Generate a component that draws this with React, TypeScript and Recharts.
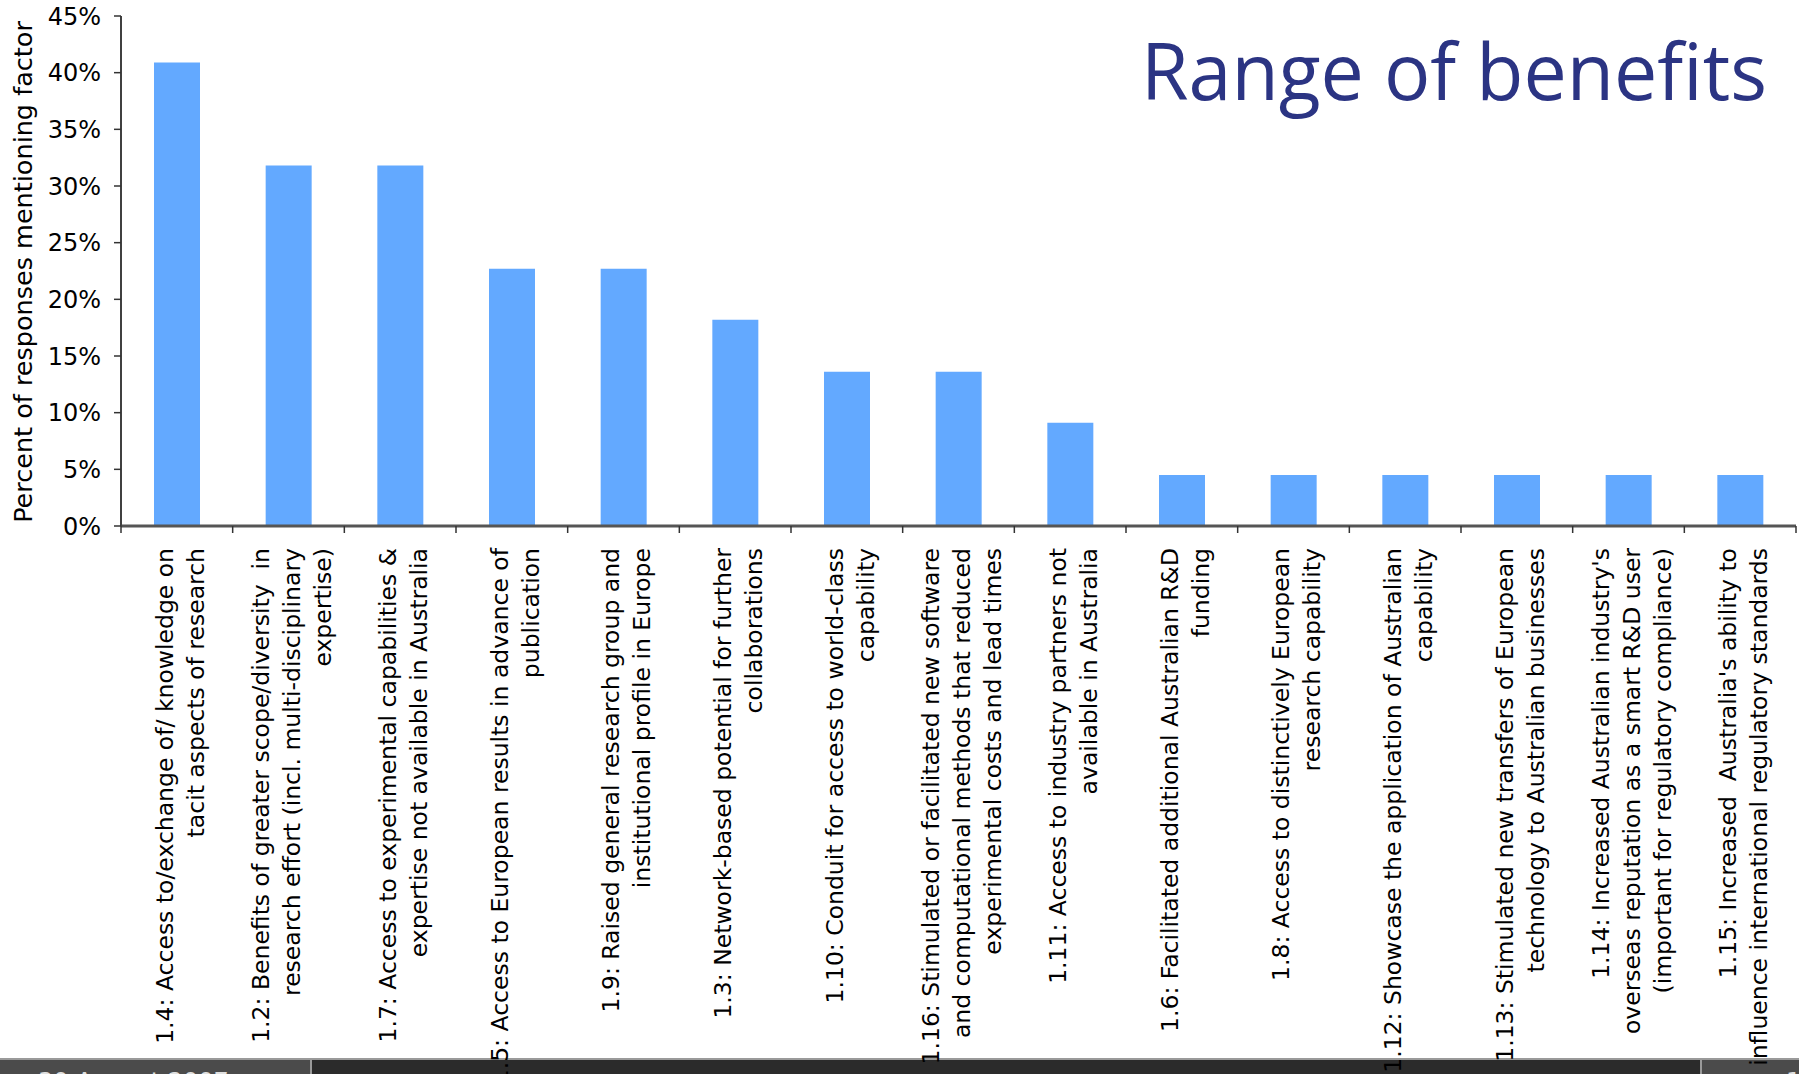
import React from 'react';
import { BarChart, Bar, XAxis, YAxis } from 'recharts';

const categories: string[][] = [
  ['1.4: Access to/exchange of/ knowledge on', 'tacit aspects of research'],
  ['1.2: Benefits of greater scope/diversity  in', 'research effort (incl. multi-disciplinary', 'expertise)'],
  ['1.7: Access to experimental capabilities &', 'expertise not available in Australia'],
  ['1.5: Access to European results in advance of', 'publication'],
  ['1.9: Raised general research group and', 'institutional profile in Europe'],
  ['1.3: Network-based potential for further', 'collaborations'],
  ['1.10: Conduit for access to world-class', 'capability'],
  ['1.16: Stimulated or facilitated new software', 'and computational methods that reduced', 'experimental costs and lead times'],
  ['1.11: Access to industry partners not', 'available in Australia'],
  ['1.6: Facilitated additional Australian R&D', 'funding'],
  ['1.8: Access to distinctively European', 'research capability'],
  ['1.12: Showcase the application of Australian', 'capability'],
  ['1.13: Stimulated new transfers of European', 'technology to Australian businesses'],
  ["1.14: Increased Australian industry's", 'overseas reputation as a smart R&D user', '(important for regulatory compliance)'],
  ["1.15: Increased  Australia's ability to", 'influence international regulatory standards'],
];

const values: number[] = [0.409, 0.318, 0.318, 0.227, 0.227, 0.182, 0.136, 0.136, 0.091, 0.045, 0.045, 0.045, 0.045, 0.045, 0.045];

const yTicks: number[] = [0, 0.05, 0.1, 0.15, 0.2, 0.25, 0.3, 0.35, 0.4, 0.45];

const title = 'Range of benefits';
const yLabel = 'Percent of responses mentioning factor';
const footerDate = '30 August 2007';
const footerPage = '1';

const data = categories.map((lines, i) => ({ name: lines.join(' '), value: values[i] }));
const linesByName: Record<string, string[]> = {};
categories.forEach((lines) => {
  linesByName[lines.join(' ')] = lines;
});

const FONT = '"DejaVu Sans", Verdana, sans-serif';

function XTick(props: any) {
  const { x, y, payload, index } = props;
  const half = payload && typeof payload.offset === 'number' && payload.offset > 0 ? payload.offset : 55.8;
  const lines = linesByName[payload.value] || [String(payload.value)];
  const n = lines.length;
  const lh = 31;
  return (
    <g>
      <line x1={x - half} x2={x - half} y1={y} y2={y + 7} stroke="#333" strokeWidth={1.5} />
      {index === categories.length - 1 && (
        <line x1={x + half} x2={x + half} y1={y} y2={y + 7} stroke="#333" strokeWidth={1.5} />
      )}
      <g transform={`translate(${x + 3},${y + 22}) rotate(-90)`}>
        {lines.map((l, i) => (
          <text
            key={i}
            x={0}
            y={(i - (n - 1) / 2) * lh}
            dy="0.36em"
            textAnchor="end"
            fontSize={23.5}
            fontFamily={FONT}
            fill="#000"
            style={{ whiteSpace: 'pre' }}
          >
            {l}
          </text>
        ))}
      </g>
    </g>
  );
}

function YLabel(props: any) {
  const vb = props.viewBox || { x: 0, y: 16, width: 121, height: 510 };
  const cy = vb.y + vb.height / 2 + 1;
  const cx = 23;
  return (
    <text
      transform={`translate(${cx},${cy}) rotate(-90)`}
      textAnchor="middle"
      dominantBaseline="central"
      fontSize={25.5}
      fontFamily={FONT}
      fill="#000"
    >
      {yLabel}
    </text>
  );
}

export default function App() {
  return (
    <div style={{ position: 'absolute', left: 0, top: 0, width: 1799, height: 1074, overflow: 'hidden', background: '#fff' }}>
      {/* slide footer */}
      <div style={{ position: 'absolute', left: 0, top: 1058, width: 1799, height: 16, background: '#9a9a9a' }} />
      <div style={{ position: 'absolute', left: 0, top: 1060, width: 310, height: 14, background: '#4b4b4b', overflow: 'hidden' }}>
        <div style={{ position: 'absolute', left: 38, top: 8, fontFamily: FONT, fontSize: 24, color: '#e0e0e0', whiteSpace: 'pre', lineHeight: '28px' }}>
          {footerDate}
        </div>
      </div>
      <div style={{ position: 'absolute', left: 312, top: 1060, width: 1388, height: 14, background: '#2b2b2b' }} />
      <div style={{ position: 'absolute', left: 1702, top: 1060, width: 97, height: 14, background: '#4b4b4b', overflow: 'hidden' }}>
        <div style={{ position: 'absolute', left: 84, top: 8, fontFamily: FONT, fontSize: 24, color: '#e0e0e0', lineHeight: '28px' }}>
          {footerPage}
        </div>
      </div>

      <div style={{ position: 'absolute', left: 0, top: 0 }}>
        <BarChart width={1799} height={1074} data={data} margin={{ top: 16, right: 3, left: 0, bottom: 0 }}>
          <XAxis
            xAxisId="top"
            orientation="top"
            dataKey="name"
            height={0}
            tick={false}
            tickLine={false}
            axisLine={{ stroke: '#8c8c8c', strokeWidth: 2 }}
          />
          <YAxis
            yAxisId="right"
            orientation="right"
            width={0}
            domain={[0, 0.45]}
            ticks={yTicks}
            tick={false}
            tickLine={false}
            axisLine={{ stroke: '#8c8c8c', strokeWidth: 2 }}
          />
          <XAxis
            dataKey="name"
            interval={0}
            height={548}
            tickLine={false}
            tickSize={0}
            tickMargin={0}
            axisLine={{ stroke: '#555', strokeWidth: 3 }}
            tick={<XTick />}
          />
          <YAxis
            width={121}
            domain={[0, 0.45]}
            ticks={yTicks}
            interval={0}
            tickSize={7}
            tickMargin={13}
            tickLine={{ stroke: '#333', strokeWidth: 1.5 }}
            axisLine={{ stroke: '#404040', strokeWidth: 2 }}
            tick={{ fontSize: 24, fontFamily: FONT, fill: '#000' }}
            tickFormatter={(v: number) => `${Math.round(v * 100)}%`}
            label={{ content: (p: any) => <YLabel {...p} /> }}
          />
          <Bar dataKey="value" fill="#63A9FF" barSize={46} isAnimationActive={false} />
        </BarChart>
      </div>

      <svg style={{ position: 'absolute', left: 0, top: 0 }} width={1799} height={140}>
        <text
          x={1141}
          y={100}
          fontSize={78}
          fontFamily='"Open Sans", "Noto Sans", sans-serif'
          fill="#2B3483"
          textLength={626}
          lengthAdjust="spacingAndGlyphs"
        >
          {title}
        </text>
      </svg>
    </div>
  );
}
